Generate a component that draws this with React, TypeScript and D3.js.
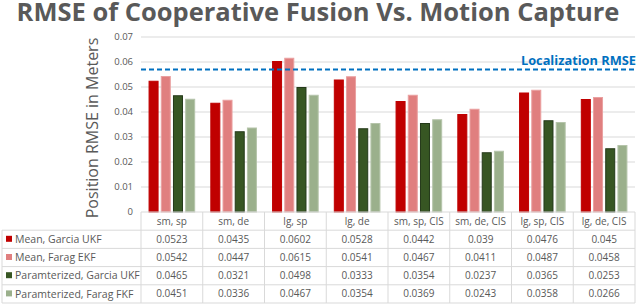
import { useEffect, useRef } from "react";
import * as d3 from "d3";

// categories shown along the x axis / table header
const categories = [
  "sm, sp",
  "sm, de",
  "lg, sp",
  "lg, de",
  "sm, sp, CIS",
  "sm, de, CIS",
  "lg, sp, CIS",
  "lg, de, CIS",
];

const seriesNames = [
  "Mean,  Garcia UKF",
  "Mean,  Farag EKF",
  "Paramterized, Garcia UKF",
  "Paramterized, Farag FKF",
];

const meanGarcia = [0.0523, 0.0435, 0.0602, 0.0528, 0.0442, 0.039, 0.0476, 0.045];
const meanFarag = [0.0542, 0.0447, 0.0615, 0.0541, 0.0467, 0.0411, 0.0487, 0.0458];
const paramGarcia = [0.0465, 0.0321, 0.0498, 0.0333, 0.0354, 0.0237, 0.0365, 0.0253];
const paramFarag = [0.0451, 0.0336, 0.0467, 0.0354, 0.0369, 0.0243, 0.0358, 0.0266];

const yTicks = [0, 0.01, 0.02, 0.03, 0.04, 0.05, 0.06, 0.07];
const localizationRmse = 0.057;

const seriesColors = ["#c00000", "#e07f7f", "#375623", "#9bb08c"];
const seriesStrokes = ["#c00000", "#eaa0a0", "#24391a", "#b5c4aa"];

export default function App() {
  const ref = useRef<SVGSVGElement>(null);

  useEffect(() => {
    if (!ref.current) return;
    const svg = d3.select(ref.current);
    svg.selectAll("*").remove();

    const width = 640;
    const height = 304;
    const left = 141;
    const right = 635;
    const font = "'Open Sans', 'Noto Sans', sans-serif";
    const textColor = "#595959";
    const gridColor = "#d9d9d9";

    const allSeries = [meanGarcia, meanFarag, paramGarcia, paramFarag];

    const x = d3.scaleBand<string>().domain(categories).range([left, right]);
    const inner = d3
      .scaleBand<number>()
      .domain([0, 1, 2, 3])
      .range([0, x.bandwidth()])
      .paddingInner(0.18)
      .paddingOuter(0.62);
    const y = d3.scaleLinear().domain([0, 0.07]).range([212, 37]);

    // title
    svg
      .append("text")
      .attr("x", 318)
      .attr("y", 21)
      .attr("text-anchor", "middle")
      .style("font-family", font)
      .style("font-size", "25.5px")
      .style("font-weight", "bold")
      .style("fill", textColor)
      .text("RMSE of Cooperative Fusion Vs. Motion Capture");

    // gridlines
    svg
      .append("g")
      .selectAll("line")
      .data(yTicks.slice(1))
      .enter()
      .append("line")
      .attr("x1", left)
      .attr("x2", right)
      .attr("y1", (d) => y(d))
      .attr("y2", (d) => y(d))
      .attr("stroke", gridColor)
      .attr("stroke-width", 1);

    // y tick labels
    svg
      .append("g")
      .selectAll("text")
      .data(yTicks)
      .enter()
      .append("text")
      .attr("x", 133)
      .attr("y", (d) => y(d))
      .attr("dy", "0.35em")
      .attr("text-anchor", "end")
      .style("font-family", font)
      .style("font-size", "9.5px")
      .style("fill", textColor)
      .text((d) => (d === 0 ? "0" : d3.format(".2f")(d)));

    // y axis title
    svg
      .append("text")
      .attr("transform", `translate(98,128) rotate(-90)`)
      .attr("text-anchor", "middle")
      .style("font-family", font)
      .style("font-size", "16px")
      .style("fill", textColor)
      .text("Position RMSE in Meters");

    // bars
    allSeries.forEach((values, si) => {
      svg
        .append("g")
        .selectAll("rect")
        .data(values)
        .enter()
        .append("rect")
        .attr("x", (_d, i) => (x(categories[i]) as number) + (inner(si) as number) + 0.5)
        .attr("y", (d) => y(d))
        .attr("width", inner.bandwidth() - 1)
        .attr("height", (d) => y(0) - y(d))
        .attr("fill", seriesColors[si])
        .attr("stroke", seriesStrokes[si])
        .attr("stroke-width", 1);
    });

    // localization line
    svg
      .append("line")
      .attr("x1", left)
      .attr("x2", right)
      .attr("y1", y(localizationRmse))
      .attr("y2", y(localizationRmse))
      .attr("stroke", "#0070c0")
      .attr("stroke-width", 2)
      .attr("stroke-dasharray", "5,3");

    svg
      .append("text")
      .attr("x", 636)
      .attr("y", 65)
      .attr("text-anchor", "end")
      .style("font-family", font)
      .style("font-size", "12.8px")
      .style("font-weight", "bold")
      .style("fill", "#0070c0")
      .text("Localization RMSE");

    // data table
    const rowTop = 212;
    const rowH = 18.2;
    const table = svg.append("g");
    const hLines = [0, 1, 2, 3, 4, 5];
    hLines.forEach((r) => {
      const yy = rowTop + r * rowH;
      table
        .append("line")
        .attr("x1", r === 0 ? left : 2)
        .attr("x2", right)
        .attr("y1", yy)
        .attr("y2", yy)
        .attr("stroke", gridColor);
    });
    const colEdges = [left, ...categories.map((c) => (x(c) as number) + x.bandwidth())];
    colEdges.forEach((cx) => {
      table
        .append("line")
        .attr("x1", cx)
        .attr("x2", cx)
        .attr("y1", rowTop)
        .attr("y2", rowTop + 5 * rowH)
        .attr("stroke", gridColor);
    });
    table
      .append("line")
      .attr("x1", 2)
      .attr("x2", 2)
      .attr("y1", rowTop + rowH)
      .attr("y2", rowTop + 5 * rowH)
      .attr("stroke", gridColor);

    categories.forEach((c) => {
      table
        .append("text")
        .attr("x", (x(c) as number) + x.bandwidth() / 2)
        .attr("y", rowTop + rowH / 2)
        .attr("dy", "0.35em")
        .attr("text-anchor", "middle")
        .style("font-family", font)
        .style("font-size", "10px")
        .style("fill", textColor)
        .text(c);
    });

    allSeries.forEach((values, si) => {
      const cy = rowTop + (si + 1.5) * rowH;
      table
        .append("rect")
        .attr("x", 6)
        .attr("y", cy - 3.5)
        .attr("width", 6)
        .attr("height", 6)
        .attr("fill", seriesColors[si]);
      table
        .append("text")
        .attr("x", 15)
        .attr("y", cy)
        .attr("dy", "0.35em")
        .style("font-family", font)
        .style("font-size", "10.5px")
        .style("fill", textColor)
        .text(seriesNames[si]);
      values.forEach((v, i) => {
        table
          .append("text")
          .attr("x", (x(categories[i]) as number) + x.bandwidth() / 2)
          .attr("y", cy)
          .attr("dy", "0.35em")
          .attr("text-anchor", "middle")
          .style("font-family", font)
          .style("font-size", "10px")
          .style("fill", textColor)
          .text(String(v));
      });
    });

    svg.attr("width", width).attr("height", height);
  }, []);

  return (
    <svg
      ref={ref}
      width={640}
      height={304}
      style={{ position: "absolute", left: 0, top: 0, background: "#fff" }}
    />
  );
}
